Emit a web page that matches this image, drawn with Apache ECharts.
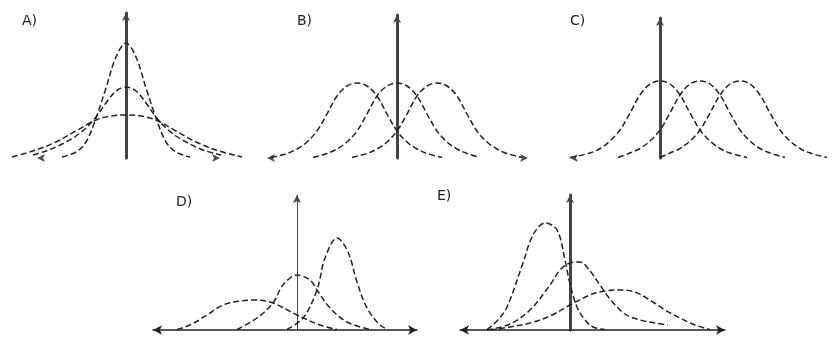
<!DOCTYPE html>
<html>
<head>
<meta charset="utf-8">
<script src="https://cdn.jsdelivr.net/npm/echarts@6/dist/echarts.min.js"></script>
<style>
  html, body { margin: 0; padding: 0; background: #fff; }
  #chart { width: 833px; height: 343px; }
</style>
</head>
<body>
<div id="chart"></div>
<script>
var myChart = echarts.init(document.getElementById('chart'));

// panel labels
var labels = ['A)', 'B)', 'C)', 'D)', 'E)'];

// A) same centre, different spread
var aTall = [[-6.4,0.1],[-5,0.6],[-4,1.6],[-3,4.0],[-2,7.0],[-1,10.1],[0,11.5],[1,10.1],[2,7.0],[3,4.0],[4,1.6],[5,0.6],[6.4,0.1]];
var aMid  = [[-9.3,0.3],[-8,0.7],[-7,1.1],[-6,1.6],[-5,2.2],[-4,3.0],[-3,4.1],[-2,5.5],[-1,6.7],[0,7.1],[1,6.7],[2,5.5],[3,4.1],[4,3.0],[5,2.2],[6,1.6],[7,1.1],[8,0.7],[9.5,0.3]];
var aFlat = [[-11.4,0.1],[-9,0.8],[-7,1.6],[-5,2.7],[-3,3.8],[-1.5,4.2],[0,4.3],[1.5,4.2],[3,3.8],[5,2.7],[7,1.6],[9,0.8],[11.6,0.1]];
var aTips = [[-8.9,0],[9.4,0]];

// B) same spread, centres -4, 0, 4
var bLeft  = [[-12.6,0.05],[-11,0.45],[-10,0.9],[-9,1.6],[-8,2.7],[-7,4.4],[-6,6.2],[-5,7.2],[-4,7.5],[-3,7.2],[-2,6.2],[-1,4.4],[0,2.7],[1,1.6],[2,0.9],[3,0.45],[4.5,0.05]];
var bMid   = [[-8.4,0.05],[-7,0.45],[-6,0.9],[-5,1.6],[-4,2.7],[-3,4.4],[-2,6.2],[-1,7.2],[0,7.5],[1,7.2],[2,6.2],[3,4.4],[4,2.7],[5,1.6],[6,0.9],[7,0.45],[8.1,0.1]];
var bRight = [[-4.5,0.05],[-3,0.45],[-2,0.9],[-1,1.6],[0,2.7],[1,4.4],[2,6.2],[3,7.2],[4,7.5],[5,7.2],[6,6.2],[7,4.4],[8,2.7],[9,1.6],[10,0.9],[11,0.45],[12.5,0.05]];
var bTips = [[-13,0],[13.1,0]];

// C) same spread, centres 0, 4, 8
var cLeft  = [[-9,0.05],[-7,0.5],[-6,0.95],[-5,1.7],[-4,2.8],[-3,4.5],[-2,6.3],[-1,7.4],[0,7.7],[1,7.4],[2,6.3],[3,4.5],[4,2.8],[5,1.7],[6,0.95],[7,0.5],[8.7,0.05]];
var cMid   = [[-4.2,0.05],[-3,0.5],[-2,0.95],[-1,1.7],[0,2.8],[1,4.5],[2,6.3],[3,7.4],[4,7.7],[5,7.4],[6,6.3],[7,4.5],[8,2.8],[9,1.7],[10,0.95],[11,0.5],[12.5,0.05]];
var cRight = [[0,0.05],[1,0.5],[2,0.95],[3,1.7],[4,2.8],[5,4.5],[6,6.3],[7,7.4],[8,7.7],[9,7.4],[10,6.3],[11,4.5],[12,2.8],[13,1.7],[14,0.95],[15,0.5],[16.7,0.05]];
var cTips = [[-9,0]];

// D) different centre and spread
var dWide = [[-12,0.05],[-10.7,0.5],[-9,1.5],[-7.4,2.5],[-5.7,2.9],[-4.2,3.0],[-2.4,2.7],[0,1.5],[2.3,0.5],[4,0.05]];
var dMid  = [[-6,0.05],[-4,1.2],[-2.4,2.7],[-1.4,4.5],[0,5.5],[1.3,5.0],[2,4.0],[3.3,2.2],[5,0.8],[7.3,0.05]];
var dTall = [[-1,0.05],[0.6,1.2],[2,4.0],[2.8,7.2],[4,9.2],[5.1,7.8],[6,4.8],[7,2.2],[8.3,0.5],[9.1,0.05]];

// E) skewed set
var eTall = [[-8.3,0.05],[-7.3,0.9],[-6.3,2.3],[-4.7,6.7],[-3.7,9.5],[-2.5,10.7],[-1.3,10.0],[-0.5,7.0],[0,4.6],[0.7,2.3],[1.5,1.0],[2.3,0.3],[3.5,0.05]];
var eMid  = [[-8.3,0.0],[-6,0.6],[-4,2.0],[-2,4.5],[-1,6.0],[0,6.7],[1,6.8],[2,5.9],[3,4.5],[4,3.1],[5.5,1.6],[7,1.0],[8.5,0.7],[9.8,0.5]];
var eWide = [[-8,0.0],[-6,0.3],[-4,0.7],[-2,1.4],[0,2.5],[2,3.5],[3.5,3.9],[5,4.0],[6.5,3.8],[8.3,2.8],[9.5,2.0],[11,1.2],[12.5,0.5],[14,0.05]];

var panels = [
    {grid: {left: 6,   top: 13,  width: 240, height: 145}, x: [-12, 12],   y: 14.5, xLine: false, yWidth: 3,   label: [22, 14]},
    {grid: {left: 257, top: 15,  width: 280, height: 143}, x: [-14, 14],   y: 14.3, xLine: false, yWidth: 3,   label: [297, 14]},
    {grid: {left: 560, top: 18,  width: 270, height: 140}, x: [-10, 17],   y: 14,   xLine: false, yWidth: 3,   label: [570, 14]},
    {grid: {left: 153, top: 195, width: 264, height: 135}, x: [-14.4, 12], y: 13.5, xLine: true,  yWidth: 1,   label: [176, 195]},
    {grid: {left: 460, top: 195, width: 265, height: 135}, x: [-11, 15.5], y: 13.5, xLine: true,  yWidth: 3,   label: [437, 189]}
];

var curves = [
    [aTall, aMid, aFlat],
    [bLeft, bMid, bRight],
    [cLeft, cMid, cRight],
    [dWide, dMid, dTall],
    [eTall, eMid, eWide]
];
var tips = [aTips, bTips, cTips, [], []];

var grids = [], xAxes = [], yAxes = [], series = [], titles = [];

panels.forEach(function (p, i) {
    grids.push(p.grid);
    xAxes.push({
        type: 'value', gridIndex: i, min: p.x[0], max: p.x[1],
        axisLine: {show: p.xLine, symbol: ['arrow', 'arrow'], symbolSize: [7, 9],
                   lineStyle: {color: '#222', width: 1.5}},
        axisTick: {show: false}, axisLabel: {show: false}, splitLine: {show: false}
    });
    yAxes.push({
        type: 'value', gridIndex: i, min: 0, max: p.y,
        axisLine: {show: true, onZero: true, symbol: ['none', 'arrow'], symbolSize: [6, 8],
                   lineStyle: {color: '#444', width: p.yWidth}},
        axisTick: {show: false}, axisLabel: {show: false}, splitLine: {show: false}
    });
    titles.push({
        text: labels[i], left: p.label[0], top: p.label[1], padding: 0,
        textStyle: {fontSize: 14, fontWeight: 'normal', color: '#222', fontFamily: 'DejaVu Sans'}
    });
    curves[i].forEach(function (d) {
        series.push({
            type: 'line', xAxisIndex: i, yAxisIndex: i, data: d,
            smooth: 0.35, symbol: 'none', silent: true,
            lineStyle: {color: '#222', width: 1.5, type: [6, 3]}
        });
    });
    if (tips[i].length) {
        series.push({
            type: 'scatter', xAxisIndex: i, yAxisIndex: i, clip: false, silent: true,
            symbol: 'arrow', symbolSize: [6, 8],
            itemStyle: {color: '#222'},
            data: tips[i].map(function (t) {
                return {value: t, symbolRotate: t[0] < 0 ? 90 : -90};
            })
        });
    }
});

option = {
    backgroundColor: '#fff',
    animation: false,
    title: titles,
    grid: grids,
    xAxis: xAxes,
    yAxis: yAxes,
    series: series
};

myChart.setOption(option);
</script>
</body>
</html>
